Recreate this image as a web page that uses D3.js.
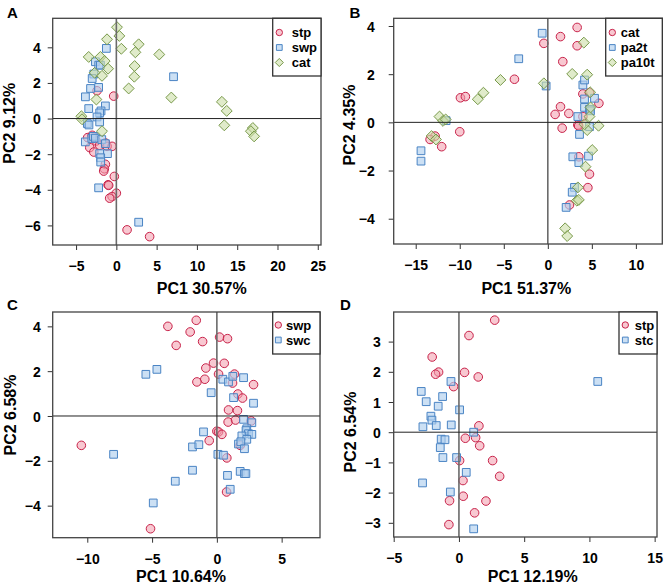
<!DOCTYPE html>
<html><head><meta charset="utf-8">
<script src="https://cdn.jsdelivr.net/npm/d3@7"></script>
<style>
body{margin:0;background:#fff}
svg{display:block}
text{font-family:"Liberation Sans",Arial,Helvetica,sans-serif;font-weight:bold;fill:#000}
</style>
</head><body>
<svg id="chart" width="666" height="585"></svg>
<script>
// ---------- DATA ----------
// Panel A
const aStp = [[-3.56,-1.07],[-3.0,-0.94],[-3.3,-1.63],[-2.8,-1.88],[-2.5,-1.26],[-2.07,-1.5],[-1.36,-1.37],[-1.15,-1.56],[-0.53,-1.56],[-1.36,-2.57],[-1.49,-2.82],[-1.57,-2.95],[-0.25,-3.25],[-1.03,-3.72],[-0.95,-3.75],[0.0,-4.19],[-0.53,-4.38],[-0.83,-4.47],[1.33,-6.25],[4.13,-6.63],[-2.4,1.56],[-0.33,1.26]];
const aSwp = [[-1.24,3.94],[-2.6,3.19],[-2.19,3.0],[-1.98,3.0],[-2.8,2.5],[-3.0,2.25],[-3.2,1.69],[-2.2,1.75],[-3.84,1.22],[-1.36,0.71],[-3.43,0.56],[-1.9,0.43],[-2.07,0.32],[-2.4,0.09],[-2.07,-0.19],[-3.6,-0.28],[-3.4,-0.36],[-3.85,-1.31],[-3.05,-1.12],[-2.85,-1.0],[-2.6,-1.1],[-1.81,-1.18],[-1.36,-1.41],[-2.07,-1.97],[-1.1,-1.97],[-1.94,-2.2],[-1.94,-2.44],[-2.2,-3.89],[2.77,-5.82],[7.1,2.35]];
const aCat = [[0.08,5.13],[0.37,4.64],[-1.16,4.45],[2.77,4.17],[0.62,3.92],[2.36,3.72],[-3.43,3.46],[-1.98,3.46],[-1.45,3.23],[5.33,3.6],[2.27,2.95],[-1.03,2.8],[-2.69,2.57],[-1.78,2.4],[2.23,2.35],[1.53,1.69],[-2.48,1.07],[6.82,1.18],[13.1,0.94],[13.7,0.43],[13.4,-0.38],[-4.34,0.13],[-4.26,-0.04],[-1.78,-0.71],[16.94,-0.53],[16.7,-0.71],[17.1,-1.0]];
// Panel B
const bCat = [[3.33,3.94],[-0.45,3.28],[1.44,3.56],[3.33,3.18],[1.7,2.52],[-3.79,1.79],[-9.92,1.02],[-9.36,1.07],[-10.0,-0.39],[-12.05,-1.01],[-12.8,-0.57],[-13.37,-0.71],[3.98,1.18],[4.73,1.23],[5.8,0.79],[1.44,0.65],[0.83,0.33],[2.39,0.37],[1.63,-0.24],[3.98,0.24],[3.41,-0.11],[3.5,-0.15],[3.52,-1.43],[4.73,-2.15],[4.55,-2.71],[2.46,-3.43]];
const bPa2t = [[-0.64,3.7],[-3.3,2.64],[-0.19,1.51],[3.98,1.55],[4.17,1.76],[4.17,0.97],[5.3,1.0],[4.17,0.62],[4.73,0.54],[4.85,0.48],[3.41,0.24],[3.6,-0.5],[4.73,-0.18],[-11.55,0.07],[-14.4,-1.18],[-14.4,-1.61],[2.84,-1.43],[3.52,-1.67],[4.62,-1.4],[3.03,-2.7],[2.77,-2.9],[2.08,-3.53]];
const bPa10t = [[4.09,3.31],[2.77,2.01],[4.47,1.98],[-0.45,1.62],[-5.38,1.76],[-7.31,1.23],[-7.95,0.96],[-12.3,0.24],[-11.9,0.06],[-11.6,0.12],[-13.2,-0.57],[-12.7,-0.71],[4.73,0.24],[4.85,0.62],[4.47,-0.32],[4.17,-0.08],[5.76,-0.14],[5.04,-1.15],[4.28,-1.84],[3.41,-2.7],[3.3,-3.25],[3.52,-3.22],[1.97,-4.4],[2.2,-4.72],[4.8,1.25]];
// Panel C
const cSwp = [[-1.59,4.27],[-3.78,4.0],[-2.06,3.75],[-3.14,3.15],[-1.1,3.32],[0.21,3.52],[0.82,3.45],[-0.26,2.36],[0.57,2.35],[-0.85,2.14],[0.13,1.87],[1.36,1.87],[-0.93,1.64],[-1.54,1.52],[1.21,1.47],[2.83,1.4],[1.62,0.98],[1.98,0.8],[0.9,0.27],[1.59,0.24],[0.87,-0.27],[1.44,-0.18],[2.65,-0.22],[0.0,-0.68],[0.13,-0.71],[0.39,-0.82],[-0.59,-1.1],[1.8,-1.31],[0.77,-1.87],[0.75,-3.39],[-10.46,-1.31],[-5.12,-5.03]];
const cSwc = [[-5.48,1.86],[-4.63,2.08],[0.46,1.64],[0.9,1.52],[1.23,1.77],[2.06,1.71],[-0.44,1.04],[1.29,0.82],[2.83,0.57],[2.06,-0.15],[2.7,-0.3],[-1.03,-0.71],[2.31,-0.57],[2.25,-0.65],[2.44,-0.79],[2.7,-0.82],[1.93,-0.89],[2.31,-1.04],[1.67,-1.25],[1.85,-1.15],[2.13,-1.46],[-1.88,-1.38],[-1.39,-1.28],[0.08,-1.71],[0.51,-1.75],[-7.97,-1.71],[-1.88,-2.42],[0.82,-2.65],[1.8,-2.47],[2.13,-2.57],[2.24,-2.57],[1.03,-3.27],[-3.21,-2.91],[-4.91,-3.88]];
// Panel D
const dStp = [[2.74,3.71],[0.77,3.2],[-2.05,2.49],[-1.56,1.99],[-1.79,1.92],[0.43,1.98],[1.48,1.83],[-0.41,1.51],[1.53,0.21],[0.49,-0.2],[1.28,-0.18],[1.59,-0.45],[0.05,-0.94],[2.58,-0.94],[3.12,-1.46],[0.31,-1.6],[0.33,-2.12],[-0.72,-2.27],[2.07,-2.28],[1.2,-2.67],[-0.77,-3.06]];
const dStc = [[-0.61,1.68],[-2.89,1.35],[-2.51,1.01],[-1.25,1.18],[-1.59,0.86],[0.05,0.74],[-2.15,0.53],[-2.07,0.4],[-2.76,0.18],[-1.74,0.22],[-0.59,0.24],[1.13,0.0],[-1.36,-0.23],[-1.07,-0.25],[-1.43,-0.51],[-1.23,-0.84],[-0.18,-0.84],[0.56,-1.33],[-2.79,-1.68],[-0.66,-1.98],[1.13,-3.2],[10.64,1.68]];

// Tick values
const aXTicks = [-5,0,5,10,15,20,25];
const aYTicks = [-6,-4,-2,0,2,4];
const bXTicks = [-15,-10,-5,0,5,10];
const bYTicks = [-4,-2,0,2,4];
const cXTicks = [-10,-5,0,5];
const cYTicks = [-4,-2,0,2,4];
const dXTicks = [-5,0,5,10,15];
const dYTicks = [-3,-2,-1,0,1,2,3];

// Labels
const panelLetters = ["A","B","C","D"];
const xTitles = ["PC1 30.57%","PC1 51.37%","PC1 10.64%","PC1 12.19%"];
const yTitles = ["PC2 9.12%","PC2 4.35%","PC2 6.58%","PC2 6.54%"];
const aNames = ["stp","swp","cat"];
const bNames = ["cat","pa2t","pa10t"];
const cNames = ["swp","swc"];
const dNames = ["stp","stc"];

// ---------- STYLE ----------
const shapes = ["circle","square","diamond"];
const styles = {
  circle:{fill:"rgba(242,155,172,0.55)",stroke:"#c8234a"},
  square:{fill:"rgba(176,208,238,0.65)",stroke:"#4a84c4"},
  diamond:{fill:"rgba(204,222,166,0.6)",stroke:"#78994a"}
};
function shapePath(type, s){
  if(type==="circle"){ return d3.symbol(d3.symbolCircle, Math.PI*s*s)(); }
  if(type==="square"){ const h=s*0.9; return `M${-h},${-h}H${h}V${h}H${-h}Z`; }
  const h=s*1.27; return `M0,${-h}L${h},0L0,${h}L${-h},0Z`;
}

const panels = [
  {series:[aStp,aSwp,aCat],names:aNames,xt:aXTicks,yt:aYTicks,
   box:[52.7,18.3,321,245],xd:[-7.9,25.4],yd:[-7.1,5.63],ylabGap:7,
   letter:[7,18],xTitle:[201.7,294],yTitle:[15,123.3],
   legend:{box:[272.7,18.3,321,76],sx:279.3,tx:291.7,rows:[32.5,47.5,62.5]}},
  {series:[bCat,bPa2t,bPa10t],names:bNames,xt:bXTicks,yt:bYTicks,
   box:[393.7,18.3,662.3,244],xd:[-17.5,13.0],yd:[-5.05,4.32],ylabGap:14,
   letter:[349.5,18],xTitle:[526.3,294],yTitle:[355,125],
   legend:{box:[605.7,18.3,662.3,76],sx:612.3,tx:620.7,rows:[32.5,47.5,62.5]}},
  {series:[cSwp,cSwc],names:cNames,xt:cXTicks,yt:cYTicks,
   box:[52.7,312,320,537.7],xd:[-12.67,7.96],yd:[-5.43,4.64],ylabGap:7,
   letter:[7,309.5],xTitle:[181,582],yTitle:[16,415],
   legend:{box:[272.7,312,320,354],sx:278.3,tx:286,rows:[325,340]}},
  {series:[dStp,dStc],names:dNames,xt:dXTicks,yt:dYTicks,
   box:[393.7,312,657,537],xd:[-5,15.18],yd:[-3.47,3.98],ylabGap:8,
   letter:[340,309.5],xTitle:[532.7,582],yTitle:[356,432],
   legend:{box:[619,312,657,354],sx:625.3,tx:634.7,rows:[325,340]}}
];

const svg = d3.select("#chart");

panels.forEach((p,i)=>{
  const [x0,y0,x1,y1] = p.box;
  const x = d3.scaleLinear().domain(p.xd).range([x0,x1]);
  const y = d3.scaleLinear().domain(p.yd).range([y1,y0]);
  const g = svg.append("g");

  // axes
  const xa = g.append("g").attr("transform",`translate(0,${y1})`)
    .call(d3.axisBottom(x).tickValues(p.xt).tickSize(5).tickPadding(11).tickFormat(d3.format("d")));
  const ya = g.append("g").attr("transform",`translate(${x0},0)`)
    .call(d3.axisLeft(y).tickValues(p.yt).tickSize(5).tickPadding(p.ylabGap).tickFormat(d3.format("d")));
  [xa,ya].forEach(a=>{
    a.select(".domain").remove();
    a.selectAll("line").attr("stroke","#333").attr("stroke-width",1);
    a.selectAll("text").attr("font-size",14).attr("font-family",null).style("font-weight","bold");
  });
  ya.selectAll("text").attr("dy","0.36em");

  // points
  p.series.forEach((data,si)=>{
    const t = shapes[si];
    g.append("g").selectAll("path").data(data).join("path")
      .attr("d",shapePath(t,4.3))
      .attr("transform",d=>`translate(${x(d[0])},${y(d[1])})`)
      .attr("fill",styles[t].fill).attr("stroke",styles[t].stroke).attr("stroke-width",1);
  });

  // zero lines
  g.append("line").attr("x1",x(0)).attr("x2",x(0)).attr("y1",y0).attr("y2",y1)
    .attr("stroke","#6a6a6a").attr("stroke-width",1.6);
  g.append("line").attr("x1",x0).attr("x2",x1).attr("y1",y(0)).attr("y2",y(0))
    .attr("stroke","#222").attr("stroke-width",1);

  // frame
  g.append("rect").attr("x",x0).attr("y",y0).attr("width",x1-x0).attr("height",y1-y0)
    .attr("fill","none").attr("stroke","#444").attr("stroke-width",1.3);

  // legend
  const L = p.legend;
  g.append("rect").attr("x",L.box[0]).attr("y",L.box[1]).attr("width",L.box[2]-L.box[0]).attr("height",L.box[3]-L.box[1])
    .attr("fill","#fff").attr("stroke","#333").attr("stroke-width",1.3);
  p.names.forEach((n,ni)=>{
    const t = shapes[ni];
    g.append("path").attr("d",shapePath(t,3.2))
      .attr("transform",`translate(${L.sx},${L.rows[ni]})`)
      .attr("fill",styles[t].fill).attr("stroke",styles[t].stroke).attr("stroke-width",1);
    g.append("text").attr("x",L.tx).attr("y",L.rows[ni]).attr("dy","0.36em")
      .attr("font-size",13).text(n);
  });

  // titles
  g.append("text").attr("x",p.xTitle[0]).attr("y",p.xTitle[1]).attr("text-anchor","middle")
    .attr("font-size",16).text(xTitles[i]);
  g.append("text").attr("transform",`translate(${p.yTitle[0]},${p.yTitle[1]}) rotate(-90)`)
    .attr("text-anchor","middle").attr("font-size",16).text(yTitles[i]);
  g.append("text").attr("x",p.letter[0]).attr("y",p.letter[1]).attr("font-size",15).text(panelLetters[i]);
});
</script>
</body></html>
